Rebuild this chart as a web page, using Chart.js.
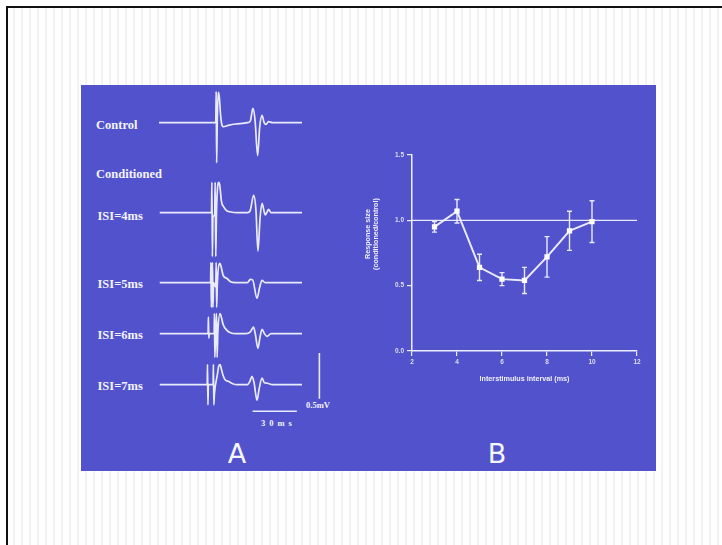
<!DOCTYPE html>
<html>
<head>
<meta charset="utf-8">
<script src="https://cdn.jsdelivr.net/npm/chart.js@4.4.1/dist/chart.umd.min.js"></script>
<style>
  html, body { margin:0; padding:0; background:#ffffff; width:722px; height:545px; overflow:hidden; }
  #frame { position:absolute; left:6px; top:6px; width:760px; height:600px;
    border-left:2.5px solid #111; border-top:2.5px solid #111;
    background: repeating-linear-gradient(to right, #ffffff 0px, #ffffff 5px, #f3f3f3 5px, #f3f3f3 7px, #ffffff 7px, #ffffff 8px); }
  #slide { position:absolute; left:81px; top:85px; width:575px; height:386px; background:#5252cc; }
  .lbl { position:absolute; color:#f4f4ff; font-family:"Liberation Serif", "DejaVu Serif", serif; font-weight:bold;
    font-size:12.5px; line-height:1; transform:translateY(-50%); white-space:nowrap; }
  .small { font-size:8.5px; }
  .big { position:absolute; color:#f6f6ff; font-family:"DejaVu Sans", sans-serif; font-size:27px; line-height:1;
    transform:translate(-50%,-50%); }
  canvas { position:absolute; }
</style>
</head>
<body>
<div id="frame"></div>
<div id="slide"></div>

<div class="lbl" style="left:96px; top:125px;">Control</div>
<div class="lbl" style="left:96px; top:174px;">Conditioned</div>
<div class="lbl" style="left:97.5px; top:216px;">ISI=4ms</div>
<div class="lbl" style="left:97.5px; top:284px;">ISI=5ms</div>
<div class="lbl" style="left:97.5px; top:335px;">ISI=6ms</div>
<div class="lbl" style="left:97.5px; top:386px;">ISI=7ms</div>
<div class="lbl small" style="left:306px; top:405px;">0.5mV</div>
<div class="lbl small" style="left:261px; top:423px; letter-spacing:4px;">30ms</div>
<div class="big" style="left:237px; top:453px;">A</div>
<div class="big" style="left:497px; top:453px;">B</div>

<canvas id="cControl" width="171" height="87" style="left:159px; top:86px;"></canvas>
<canvas id="cIsi4" width="171" height="87" style="left:159px; top:176px;"></canvas>
<canvas id="cIsi5" width="171" height="87" style="left:159px; top:246px;"></canvas>
<canvas id="cIsi6" width="171" height="87" style="left:159px; top:297px;"></canvas>
<canvas id="cIsi7" width="171" height="87" style="left:159px; top:348px;"></canvas>
<canvas id="cRatio" width="285" height="242" style="left:362px; top:147px;"></canvas>

<script>
// ---------- Panel A: EMG traces, [time (ms), amplitude (mV)] ----------
const controlTrace = [[0,0],[38.5,0],[38.8,0.34],[39.1,-0.44],[39.5,0.0],[40.2,0.33],[40.9,0.28],[41.8,0.08],[42.8,-0.03],[43.7,-0.045],[47,-0.03],[52,-0.015],[60,0],[62,0.02],[63.7,0.155],[65.2,0.02],[66.9,-0.36],[68.3,-0.05],[69.9,0.08],[71.3,0.0],[72.6,-0.02],[74.2,0.01],[77,0],[97,0]];
const isi4Trace = [[0.5,0],[35.6,0],[35.9,0.33],[36.2,-0.48],[36.6,-0.05],[37.8,-0.02],[38.1,0.33],[38.5,-0.48],[39.0,0.0],[40.4,0.33],[41.2,0.3],[42.4,0.12],[43.8,0.065],[46,0.02],[48,0.01],[53,0],[60,0],[62,0.03],[64.2,0.19],[65.8,0.02],[67.1,-0.42],[68.6,-0.05],[69.9,0.10],[71.5,0.0],[72.1,-0.025],[74.4,0.035],[76,0],[97,0]];
const isi5Trace = [[0.5,0],[35.0,0],[35.2,0.22],[35.5,-0.27],[35.9,0],[36.3,0.22],[36.6,-0.27],[37.0,0],[38.5,-0.05],[38.8,0.22],[39.1,-0.27],[39.6,0],[41.3,0.21],[42.2,0.17],[43.5,0.08],[46.1,0.045],[48.5,0.01],[52,0],[60,0],[61.9,0.035],[63.5,0.03],[66.5,-0.17],[68.3,-0.05],[69.9,0.025],[72,0],[97,0]];
const isi6Trace = [[0.5,0],[33.3,0],[33.5,0.18],[33.8,-0.05],[34.1,0],[37.4,0],[37.6,0.22],[37.9,-0.26],[38.3,0],[39.1,0.22],[39.4,-0.26],[39.9,0],[41.4,0.22],[42.3,0.18],[43.5,0.1],[46.1,0.036],[48.5,0.01],[52,0],[59,0],[62,0.02],[64.1,0.07],[65.3,0.0],[67.1,-0.16],[68.5,-0.04],[69.9,0.047],[71.5,0.0],[73.3,-0.03],[76,0],[97,0]];
const isi7Trace = [[0.5,0],[32.7,0],[32.9,0.22],[33.2,-0.22],[33.5,0],[36.7,0],[36.9,0.22],[37.2,-0.22],[37.6,-0.1],[39.5,0.1],[40.5,0.2],[41.5,0.22],[42.3,0.17],[43.5,0.1],[45,0.05],[47.1,0.036],[50,0.01],[53,0],[60,0],[61.5,0.03],[63.1,0.09],[64.5,0.02],[66.5,-0.17],[68,-0.04],[69.9,0.07],[71.5,0.02],[73.5,0.015],[77,0],[97,0]];

// scale bars: 30 ms and 0.5 mV
const scaleBarMs = 30;
const scaleBarMv = 0.5;
const scaleBarTimeStart = 63.5;   // ms
const scaleBarTimeLevel = -0.29;  // mV
const scaleBarVoltTime = 108.8;   // ms
const scaleBarVoltTop = 0.345;    // mV

// ---------- Panel B: response size vs interstimulus interval ----------
const isiMs = [3, 4, 5, 6, 7, 8, 9, 10];
const ratioValues = [0.95, 1.07, 0.64, 0.55, 0.54, 0.72, 0.92, 0.99];
const ratioErrors = [0.04, 0.09, 0.10, 0.05, 0.10, 0.155, 0.15, 0.16];
const referenceLevel = 1.0;
const xTicks = [2, 4, 6, 8, 10, 12];
const yTicks = [0.0, 0.5, 1.0, 1.5];
const yTitle = ['Response size', '(conditioned/control)'];
const xTitle = 'Interstimulus interval (ms)';

// ---------- drawing ----------
const LINE = 'rgba(242,242,255,0.95)';
const TMIN = 0, TMAX = 116, VMIN = -0.55, VMAX = 0.4;

function toXY(pairs) { return pairs.map(p => ({x: p[0], y: p[1]})); }

function traceChart(id, pairs, extra) {
  const datasets = [{ data: toXY(pairs), borderColor: LINE, borderWidth: 1.7, pointRadius: 0,
                      cubicInterpolationMode: 'monotone', clip: 4 }];
  (extra || []).forEach(d => datasets.push({ data: d, borderColor: LINE, borderWidth: 1.6, pointRadius: 0, tension: 0, clip: 4 }));
  return new Chart(document.getElementById(id), {
    type: 'line',
    data: { datasets },
    options: {
      responsive: false, animation: false, events: [],
      layout: { padding: 0 },
      plugins: { legend: { display: false }, tooltip: { enabled: false } },
      scales: {
        x: { type: 'linear', display: false, min: TMIN, max: TMAX },
        y: { type: 'linear', display: false, min: VMIN, max: VMAX }
      }
    }
  });
}

traceChart('cControl', controlTrace);
traceChart('cIsi4', isi4Trace);
traceChart('cIsi5', isi5Trace);
traceChart('cIsi6', isi6Trace);
traceChart('cIsi7', isi7Trace, [
  [{x: scaleBarTimeStart, y: scaleBarTimeLevel}, {x: scaleBarTimeStart + scaleBarMs, y: scaleBarTimeLevel}],
  [{x: scaleBarVoltTime, y: scaleBarVoltTop}, {x: scaleBarVoltTime, y: scaleBarVoltTop - scaleBarMv}]
]);

const errorBars = {
  id: 'errorBars',
  beforeDatasetsDraw(chart) {
    const meta = chart.getDatasetMeta(0);
    const ys = chart.scales.y;
    const ctx = chart.ctx;
    ctx.save();
    ctx.strokeStyle = LINE;
    ctx.lineWidth = 1.4;
    meta.data.forEach((pt, i) => {
      const top = ys.getPixelForValue(ratioValues[i] + ratioErrors[i]);
      const bot = ys.getPixelForValue(ratioValues[i] - ratioErrors[i]);
      ctx.beginPath();
      ctx.moveTo(pt.x, top); ctx.lineTo(pt.x, bot);
      ctx.moveTo(pt.x - 2.5, top); ctx.lineTo(pt.x + 2.5, top);
      ctx.moveTo(pt.x - 2.5, bot); ctx.lineTo(pt.x + 2.5, bot);
      ctx.stroke();
    });
    ctx.restore();
  }
};

const tickFont = { family: 'Liberation Sans, Arial, sans-serif', size: 6.5, weight: 'bold' };
const titleFont = { family: 'Liberation Sans, Arial, sans-serif', size: 7.2, weight: 'bold' };

new Chart(document.getElementById('cRatio'), {
  type: 'line',
  data: {
    datasets: [
      { data: isiMs.map((x, i) => ({x, y: ratioValues[i]})), borderColor: LINE, borderWidth: 2,
        pointStyle: 'rect', pointRadius: 2.3, pointBackgroundColor: '#ffffff', pointBorderColor: '#ffffff', tension: 0 },
      { data: [{x: xTicks[0], y: referenceLevel}, {x: xTicks[xTicks.length - 1], y: referenceLevel}],
        borderColor: LINE, borderWidth: 1.3, pointRadius: 0, tension: 0 }
    ]
  },
  options: {
    responsive: false, animation: false, events: [],
    layout: { padding: { top: 8, right: 10, left: 0, bottom: 0 } },
    plugins: { legend: { display: false }, tooltip: { enabled: false } },
    scales: {
      x: {
        type: 'linear', min: xTicks[0], max: xTicks[xTicks.length - 1],
        afterBuildTicks(s) { s.ticks = xTicks.map(v => ({value: v})); },
        afterFit(s) { s.height = 38; },
        ticks: { color: '#dedef2', font: tickFont, padding: 2, callback: v => String(v) },
        grid: { drawOnChartArea: false, drawTicks: true, tickLength: 5, color: '#eeeeff', lineWidth: 1.2 },
        border: { display: true, color: '#eeeeff', width: 1.5 },
        title: { display: true, text: xTitle, color: '#f0f0ff', font: titleFont,
                 padding: { top: 0, bottom: 6 } }
      },
      y: {
        type: 'linear', min: yTicks[0], max: yTicks[yTicks.length - 1],
        afterBuildTicks(s) { s.ticks = yTicks.map(v => ({value: v})); },
        afterFit(s) { s.width = 50; },
        ticks: { color: '#dedef2', font: tickFont, padding: 3, callback: v => Number(v).toFixed(1) },
        grid: { drawOnChartArea: false, drawTicks: true, tickLength: 5, color: '#eeeeff', lineWidth: 1.2 },
        border: { display: true, color: '#eeeeff', width: 1.5 },
        // leading spaces nudge the centred title upward along the axis, as in the original
        title: { display: true, text: yTitle.map(t => ' '.repeat(19) + t), color: '#f0f0ff', font: titleFont,
                 padding: { top: 1.5, bottom: 0 } }
      }
    }
  },
  plugins: [errorBars]
});
</script>
</body>
</html>
